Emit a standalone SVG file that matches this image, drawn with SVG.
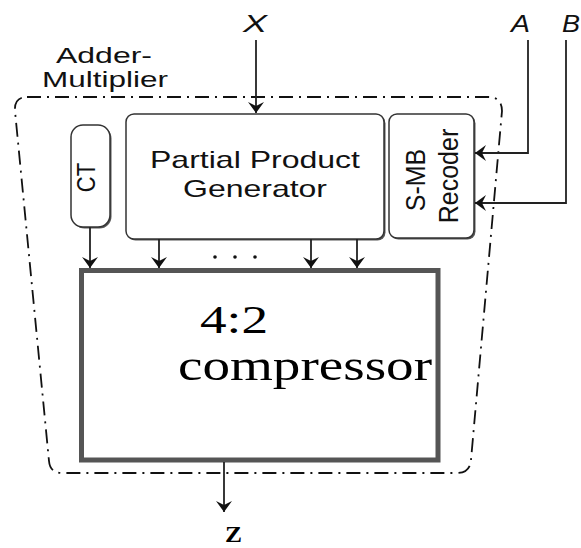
<svg xmlns="http://www.w3.org/2000/svg" width="581" height="548" viewBox="0 0 581 548">
<style>
.sans{font-family:"Liberation Sans",Arial,sans-serif;fill:#111}
.serif{font-family:"Liberation Serif","Times New Roman",serif;fill:#000}
.ln{fill:none;stroke:#222;stroke-width:1.8}
.box{fill:#fff;stroke:#333;stroke-width:1.5}
.shadow{fill:#555}
</style>
<defs>
<marker id="ah" markerUnits="userSpaceOnUse" markerWidth="14" markerHeight="18" refX="0" refY="0" orient="auto" overflow="visible">
<path d="M0,0 L-11,-8 L-7,0 L-11,8 Z" fill="#111"/>
</marker>
</defs>
<rect width="581" height="548" fill="#fff"/>
<g id="boundary">
<path d="M27,97 L488,97 Q502,97 502,111 L471,460 Q470,473 457,473 L62,473 Q50,473 49,461 L15,111 Q14,97 27,97 Z" fill="none" stroke="#111" stroke-width="1.8" stroke-dasharray="14 6 2 6"/>
<text class="sans" x="56" y="63" font-size="22.5" textLength="96" lengthAdjust="spacingAndGlyphs">Adder-</text>
<text class="sans" x="42" y="87" font-size="22.5" textLength="126" lengthAdjust="spacingAndGlyphs">Multiplier</text>
</g>
<g id="ct">
<rect x="72.5" y="126.5" width="39" height="102" rx="12" class="shadow"/>
<rect x="71" y="125" width="39" height="102" rx="12" class="box"/>
<text class="sans" font-size="22" text-anchor="middle" transform="translate(95,177.5) scale(1.15,1) rotate(-90)">CT</text>
</g>
<g id="ppg">
<rect x="127.5" y="115.5" width="258" height="125" rx="8" class="shadow"/>
<rect x="126" y="114" width="258" height="125" rx="8" class="box"/>
<text class="sans" x="150" y="168" font-size="24" textLength="210" lengthAdjust="spacingAndGlyphs">Partial Product</text>
<text class="sans" x="183" y="197" font-size="24" textLength="144" lengthAdjust="spacingAndGlyphs">Generator</text>
</g>
<g id="recoder">
<rect x="390.5" y="115.5" width="85" height="124" rx="8" class="shadow"/>
<rect x="389" y="114" width="85" height="124" rx="8" class="box"/>
<text class="sans" font-size="25" text-anchor="middle" transform="translate(425,180) scale(1.1,1) rotate(-90)">S-MB</text>
<text class="sans" font-size="25" text-anchor="middle" transform="translate(458,176) scale(1.1,1) rotate(-90)">Recoder</text>
</g>
<g id="compressor">
<rect x="81.5" y="270.5" width="356.5" height="189.5" fill="#fff" stroke="#555" stroke-width="5"/>
<text class="serif" x="200" y="333" font-size="39" textLength="68" lengthAdjust="spacingAndGlyphs">4:2</text>
<text class="serif" x="178" y="380" font-size="43.5" textLength="254" lengthAdjust="spacingAndGlyphs">compressor</text>
</g>
<g id="labels">
<text class="sans" x="243" y="32" font-size="24" font-style="italic" textLength="24" lengthAdjust="spacingAndGlyphs">X</text>
<text class="sans" x="511" y="32" font-size="24" font-style="italic" textLength="19" lengthAdjust="spacingAndGlyphs">A</text>
<text class="sans" x="562" y="32" font-size="24" font-style="italic" textLength="18" lengthAdjust="spacingAndGlyphs">B</text>
<text class="serif" x="225" y="542" font-size="23" font-weight="bold" textLength="17" lengthAdjust="spacingAndGlyphs">Z</text>
</g>
<g id="connectors">
<path class="ln" d="M256,40 V113" marker-end="url(#ah)"/>
<path class="ln" d="M528,40 V153 H475" marker-end="url(#ah)"/>
<path class="ln" d="M566,40 V203 H475" marker-end="url(#ah)"/>
<path class="ln" d="M90,227 V268" marker-end="url(#ah)"/>
<path class="ln" d="M159,239 V268" marker-end="url(#ah)"/>
<path class="ln" d="M311,239 V268" marker-end="url(#ah)"/>
<path class="ln" d="M357,239 V268" marker-end="url(#ah)"/>
<path class="ln" d="M224,462 V512" marker-end="url(#ah)"/>
<circle cx="215" cy="257" r="1.8" fill="#111"/>
<circle cx="235" cy="257" r="1.8" fill="#111"/>
<circle cx="255" cy="257" r="1.8" fill="#111"/>
</g>
</svg>
